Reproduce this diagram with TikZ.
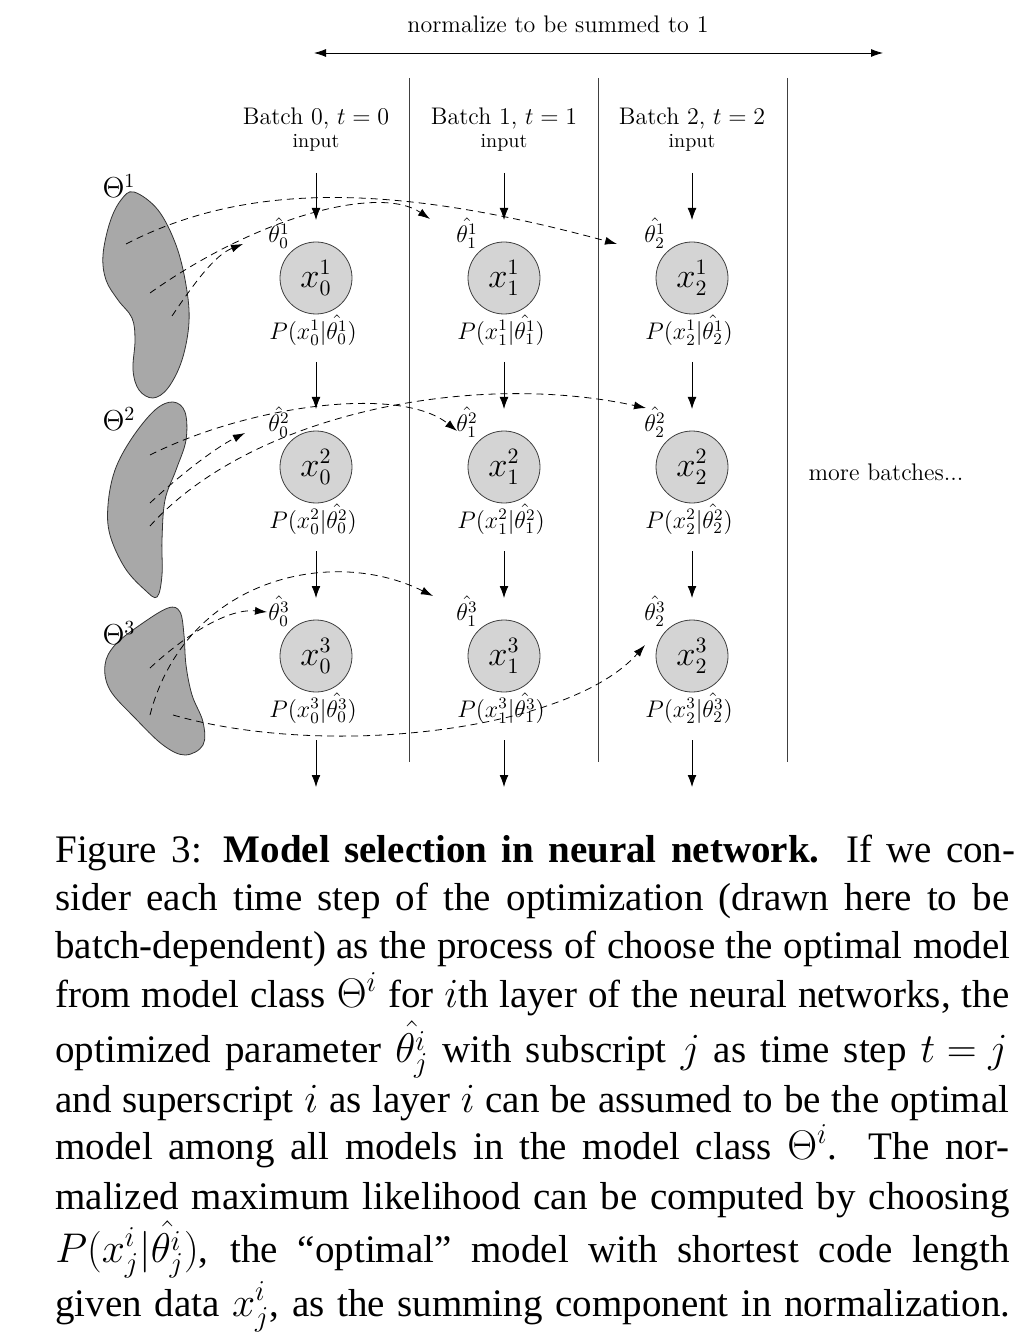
\documentclass[tikz,border=0pt]{standalone}
\usepackage{fontspec}
\newfontfamily\capfont{Liberation Serif}
\usetikzlibrary{arrows.meta}
\begin{document}
\begin{tikzpicture}[x=0.5pt,y=-0.5pt,
  lbl/.style={inner sep=0.5pt, font=\fontsize{12}{14}\selectfont},
  biglbl/.style={inner sep=0.5pt, font=\fontsize{14.5}{16}\selectfont},
  smalllbl/.style={inner sep=0.5pt, font=\fontsize{10}{12}\selectfont},
  obs/.style={circle, draw=black!75, line width=0.4pt, fill=black!17, minimum size=36pt, inner sep=0pt, font=\fontsize{16}{18}\selectfont},
  blob/.style={draw=black!80, line width=0.4pt, fill=black!34},
  sep/.style={draw=black!75, line width=0.5pt},
  arr/.style={-{Latex[length=6pt,width=4.4pt]}, line width=0.4pt},
  darr/.style={-{Latex[length=6pt,width=4pt]}, line width=0.4pt, dash pattern=on 3.5pt off 2.5pt},
  capline/.style={anchor=base west, inner sep=0pt, font=\capfont\fontsize{19.5}{24}\selectfont},
]
\useasboundingbox (0,0) rectangle (1032,1336);

% model classes (blobs)
\draw[blob] plot[smooth cycle, tension=0.6] coordinates {(134,192) (158,210) (176,245) (186,285) (189,322) (182,360) (168,388) (153,398) (139,390) (133,370) (135,340) (132,318) (118,300) (106,280) (103,255) (110,222) (121,200)};
\draw[blob] plot[smooth cycle, tension=0.6] coordinates {(173,402) (185,412) (186,440) (176,470) (165,500) (162,540) (162,575) (157,597) (145,590) (125,568) (110,535) (108,505) (115,470) (132,438) (155,410)};
\draw[blob] plot[smooth cycle, tension=0.6] coordinates {(168,608) (180,612) (184,635) (186,665) (192,695) (203,722) (203,745) (185,755) (163,745) (135,718) (110,690) (105,665) (115,645) (140,625)};
\node[biglbl] (L1) at (119,186) {$\Theta^1$};
\node[biglbl] (L2) at (119,419) {$\Theta^2$};
\node[biglbl] (L3) at (119,633) {$\Theta^3$};

% separators
\draw[sep] (409.5,78) -- (409.5,762);
\draw[sep] (598.5,78) -- (598.5,762);
\draw[sep] (787,78) -- (787,762);

% normalization arrow
\node[lbl] (norm) at (558,24) {normalize to be summed to 1};
\coordinate (nl) at (314,53);
\coordinate (nr) at (883,53);
\draw[{Latex[length=6pt,width=4pt]}-{Latex[length=6pt,width=4pt]}, line width=0.4pt] (nl) -- (nr);

\node[lbl] (more) at (886,472) {more batches...};

% columns
\foreach \c/\x in {0/316,1/504,2/692}{
  \node[lbl] (b\c) at (\x,118) {Batch \c, $t=\c$};
  \node[smalllbl] (in\c) at (\x,143) {input};
  \foreach \r/\y in {1/278,2/467,3/656}{
    \node[obs] (x\c\r) at (\x,\y) {$x^{\r}_{\c}$};
    \node[lbl] (t\c\r) at (\x-37,\y-45) {$\hat{\theta^{\r}_{\c}}$};
    \node[lbl] (p\c\r) at (\x-3,\y+52) {$P(x^{\r}_{\c}|\hat{\theta^{\r}_{\c}})$};
  }
  \foreach \r/\y in {1/278,2/467,3/656,4/845}{
    \coordinate (a\c\r) at (\x,\y-105);
    \coordinate (z\c\r) at (\x,\y-58);
    \draw[arr] (a\c\r) -- (z\c\r);
  }
}

% dashed selections
\coordinate (s11) at (126,244); \coordinate (e11) at (617,244);
\coordinate (s12) at (150,293); \coordinate (e12) at (430,219);
\coordinate (s13) at (172,316); \coordinate (e13) at (243,244);
\coordinate (s21) at (150,455); \coordinate (e21) at (457,431);
\coordinate (s22) at (150,503); \coordinate (e22) at (245,433);
\coordinate (s23) at (150,526); \coordinate (e23) at (646,408);
\coordinate (s31) at (150,668); \coordinate (e31) at (267,612);
\coordinate (s32) at (150,715); \coordinate (e32) at (433,596);
\coordinate (s33) at (173,715); \coordinate (e33) at (645,645);

\draw[darr] (s11) .. controls (250,180) and (400,185) .. (e11);
\draw[darr] (s12) .. controls (260,215) and (380,185) .. (e12);
\draw[darr] (s13) .. controls (195,282) and (215,255) .. (e13);
\draw[darr] (s21) .. controls (250,405) and (400,385) .. (e21);
\draw[darr] (s22) .. controls (180,475) and (215,448) .. (e22);
\draw[darr] (s23) .. controls (250,415) and (470,370) .. (e23);
\draw[darr] (s31) .. controls (180,640) and (225,608) .. (e31);
\draw[darr] (s32) .. controls (185,580) and (330,545) .. (e32);
\draw[darr] (s33) .. controls (330,760) and (570,730) .. (e33);

% caption
\node[capline] (c1) at (55,862) {\makebox[480pt][s]{Figure 3: \textbf{Model selection in neural network.} If we con-}};
\node[capline] (c2) at (55,910) {\makebox[477pt][s]{sider each time step of the optimization (drawn here to be}};
\node[capline] (c3) at (55,958) {\makebox[477.5pt][s]{batch-dependent) as the process of choose the optimal model}};
\node[capline] (c4) at (55,1007) {\makebox[477pt][s]{from model class $\Theta^i$ for $i$th layer of the neural networks, the}};
\node[capline] (c5) at (55,1062) {\makebox[476pt][s]{optimized parameter $\hat{\theta^i_j}$ with subscript $j$ as time step \mbox{$t=j$}}};
\node[capline] (c6) at (55,1112) {\makebox[477pt][s]{and superscript $i$ as layer $i$ can be assumed to be the optimal}};
\node[capline] (c7) at (55,1159) {\makebox[477pt][s]{model among all models in the model class $\Theta^i$.\ \ The nor-}};
\node[capline] (c8) at (55,1209) {\makebox[477pt][s]{malized maximum likelihood can be computed by choosing}};
\node[capline] (c9) at (55,1262) {\makebox[477pt][s]{$P(x^i_j|\hat{\theta^i_j})$, the “optimal” model with shortest code length}};
\node[capline] (c10) at (55,1316) {\makebox[477.5pt][s]{given data $x^i_j$, as the summing component in normalization.}};
\end{tikzpicture}
\end{document}
